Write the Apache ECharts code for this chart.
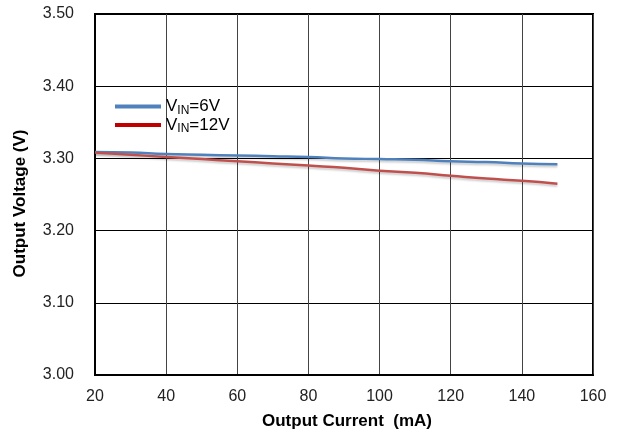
<!DOCTYPE html>
<html>
<head>
<meta charset="utf-8">
<script src="https://cdn.jsdelivr.net/npm/echarts@6/dist/echarts.min.js"></script>
<style>html,body{margin:0;padding:0;background:#fff;}#c{width:617px;height:438px;}</style>
</head>
<body>
<div id="c"></div>
<script>
var current = [20, 30, 40, 50, 60, 70, 80, 90, 100, 110, 120, 130, 140, 150];
var vin6 = [3.309, 3.308, 3.306, 3.305, 3.304, 3.303, 3.302, 3.300, 3.299, 3.298, 3.296, 3.295, 3.293, 3.292];
var vin12 = [3.308, 3.305, 3.302, 3.299, 3.296, 3.293, 3.290, 3.287, 3.283, 3.280, 3.276, 3.272, 3.269, 3.265];
var seriesNames = ['6V', '12V'];
var xTitle = 'Output Current  (mA)';
var yTitle = 'Output Voltage (V)';

function pairs(xs, ys) { return xs.map(function (x, i) { return [x, ys[i]]; }); }

var chart = echarts.init(document.getElementById('c'), null, { renderer: 'canvas' });
var font = 'Liberation Sans, Arial, sans-serif';
chart.setOption({
  animation: false,
  backgroundColor: '#fff',
  grid: { left: 95, right: 24, top: 14, bottom: 63, show: true, borderColor: '#000', borderWidth: 2, backgroundColor: 'transparent' },
  legend: {
    orient: 'vertical', left: 110, top: 93, itemWidth: 46, itemHeight: 4, itemGap: 0, icon: 'rect',
    data: [
      { name: seriesNames[0], itemStyle: { color: '#4F81BD' } },
      { name: seriesNames[1], itemStyle: { color: '#C00000' } }
    ],
    formatter: function (n) { return '{a|V}{s|IN}{a|=' + n + '}'; },
    textStyle: {
      fontSize: 17,
      rich: {
        a: { fontFamily: font, fontSize: 17, color: '#000', lineHeight: 20 },
        s: { fontFamily: font, fontSize: 12, color: '#000', lineHeight: 13, verticalAlign: 'bottom' }
      }
    }
  },
  xAxis: {
    type: 'value', min: 20, max: 160, interval: 20,
    name: xTitle, nameLocation: 'middle', nameGap: 38,
    nameTextStyle: { fontFamily: font, fontSize: 17, fontWeight: 'bold', color: '#000', padding: [0, 0, 0, 6] },
    axisLine: { show: true, lineStyle: { color: '#000', width: 2 } },
    axisTick: { show: false },
    axisLabel: { fontFamily: font, fontSize: 16, color: '#222', margin: 14 },
    splitLine: { show: true, lineStyle: { color: '#444', width: 1 } }
  },
  yAxis: {
    type: 'value', min: 3.0, max: 3.5, interval: 0.1,
    name: yTitle, nameLocation: 'middle', nameGap: 66,
    nameTextStyle: { fontFamily: font, fontSize: 17, fontWeight: 'bold', color: '#000', padding: [0, 18, 0, 0] },
    axisLine: { show: true, lineStyle: { color: '#000', width: 2 } },
    axisTick: { show: false },
    axisLabel: { fontFamily: font, fontSize: 16, color: '#222', margin: 21, formatter: function (v) { return v.toFixed(2); } },
    splitLine: { show: true, lineStyle: { color: '#000', width: 1 } }
  },
  series: [
    { name: seriesNames[0], type: 'line', data: pairs(current, vin6), showSymbol: false, smooth: true,
      color: '#4F81BD', lineStyle: { color: '#4F81BD', width: 2.5, shadowColor: 'rgba(0,0,0,0.2)', shadowBlur: 2, shadowOffsetY: 2 } },
    { name: seriesNames[1], type: 'line', data: pairs(current, vin12), showSymbol: false, smooth: true,
      color: '#C0504D', lineStyle: { color: '#C0504D', width: 2.5, shadowColor: 'rgba(0,0,0,0.2)', shadowBlur: 2, shadowOffsetY: 2 } }
  ]
});
</script>
</body>
</html>
